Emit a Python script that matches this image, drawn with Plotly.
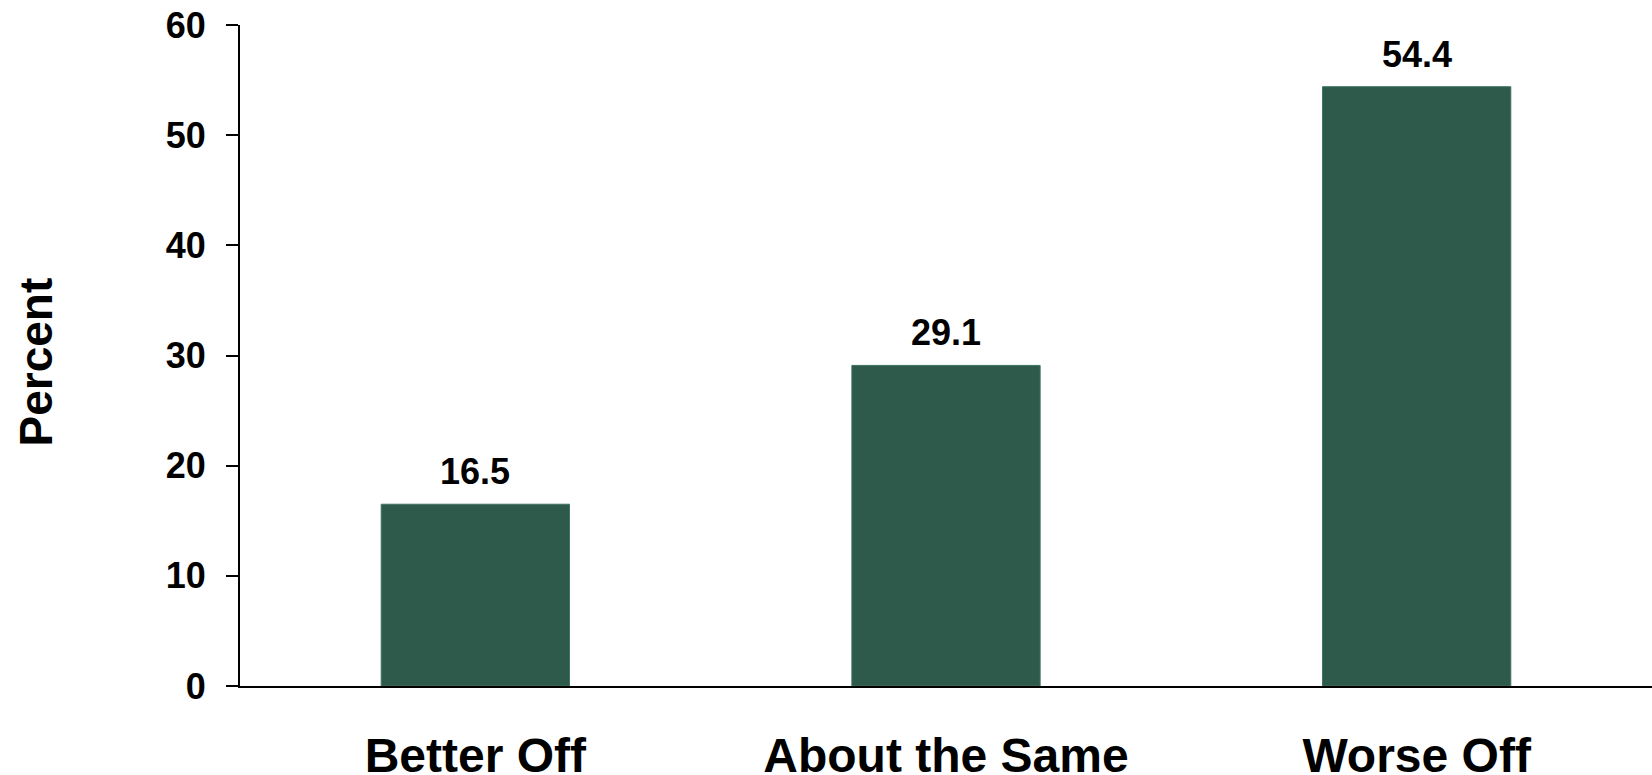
import plotly.graph_objects as go

categories = ["Better Off", "About the Same", "Worse Off"]
values = [16.5, 29.1, 54.4]
y_ticks = [0, 10, 20, 30, 40, 50, 60]

FONT = "Liberation Sans, Arial, sans-serif"
BAR = "#2D5A4A"

fig = go.Figure()
fig.add_trace(go.Bar(
    x=categories, y=values, width=0.4,
    marker=dict(color=BAR, line=dict(color="#3F7361", width=1)),
    hoverinfo="skip",
))

for c, v in zip(categories, values):
    fig.add_annotation(
        x=c, y=v, text=f"{v:.1f}", showarrow=False,
        yanchor="bottom", yshift=10,
        font=dict(family=FONT, size=36, color="black", weight="bold"),
    )

fig.update_layout(
    width=1652, height=775,
    margin=dict(l=240, r=0, t=25, b=89, autoexpand=False),
    paper_bgcolor="white", plot_bgcolor="white",
    showlegend=False,
    font=dict(family=FONT, color="black"),
)
fig.update_xaxes(
    showline=True, linecolor="black", linewidth=2,
    ticks="", showgrid=False, automargin=False,
    tickfont=dict(family=FONT, size=48, color="black", weight="bold"),
    ticklabelstandoff=26,
)
fig.update_yaxes(
    range=[0, 60], tickvals=y_ticks, automargin=False,
    showline=True, linecolor="black", linewidth=2,
    ticks="outside", ticklen=12, tickwidth=2, tickcolor="black",
    showgrid=False, zeroline=False,
    tickfont=dict(family=FONT, size=36, color="black", weight="bold"),
    ticklabelstandoff=13,
)
fig.add_annotation(
    xref="paper", yref="paper", x=0, y=0.5, xshift=-205, yshift=-7,
    text="Percent", textangle=-90, showarrow=False,
    xanchor="center", yanchor="middle",
    font=dict(family=FONT, size=46, color="black", weight="bold"),
)

fig.write_html(
    "out.html",
    config={"displayModeBar": False},
    post_script="document.body.style.margin='0';document.body.style.overflow='hidden';",
)
